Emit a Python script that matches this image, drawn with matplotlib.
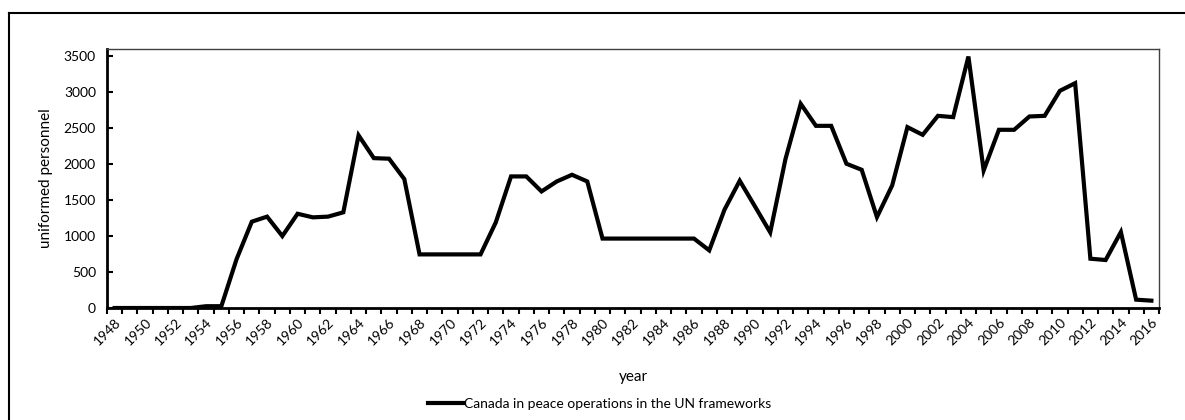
import matplotlib.pyplot as plt
import numpy as np
from matplotlib.lines import Line2D

plt.rcParams['font.family'] = ['Lato', 'DejaVu Sans']

# %% data
years = list(range(1948, 2017))
personnel = [0, 0, 0, 0, 0, 0, 25, 25, 680, 1200,
             1270, 1000, 1310, 1260, 1270, 1330, 2400, 2083, 2075, 1792,
             745, 745, 745, 745, 745, 1190, 1829, 1829, 1620, 1759,
             1852, 1759, 965, 965, 965, 965, 965, 965, 965, 801,
             1366, 1769, 1412, 1051, 2070, 2838, 2532, 2532, 2005, 1921,
             1264, 1704, 2514, 2407, 2671, 2653, 3495, 1912, 2477, 2477,
             2662, 2671, 3019, 3125, 685, 667, 1056, 116, 102]
series_name = 'Canada in peace operations in the UN frameworks'

# %% plot
fig = plt.figure(figsize=(11.85, 4.2), dpi=100)
ax = fig.add_axes([107/1185, 1-308/420, (1159-107)/1185, (308-49)/420])

x = np.arange(len(years))
ax.plot(x, personnel, color='k', lw=3, solid_joinstyle='miter')

ax.set_xlim(-0.5, len(years)-0.5)
ax.set_ylim(0, 3600)
ax.set_yticks(np.arange(0, 3501, 500))
ax.set_xticks(x[::2])
ax.set_xticklabels([str(y) for y in years[::2]], rotation=45, ha='right',
                   rotation_mode='anchor', fontsize=10)
ax.set_xticks(np.arange(-0.5, len(years)), minor=True)
ax.tick_params(axis='x', which='major', length=0, pad=6)
ax.tick_params(axis='x', which='minor', direction='out', length=4, width=1.5)
ax.tick_params(axis='y', direction='in', length=4, width=1.5, labelsize=10, pad=8)

for s in ['left', 'bottom']:
    ax.spines[s].set_linewidth(2)
    ax.spines[s].set_color('k')
for s in ['top', 'right']:
    ax.spines[s].set_linewidth(1)
    ax.spines[s].set_color('#404040')

ax.set_xlabel('year', fontsize=11, labelpad=16)
ax.set_ylabel('uniformed personnel', fontsize=11, labelpad=8)

# legend
handle = [Line2D([0], [0], color='k', lw=3)]
fig.legend(handle, [series_name], loc='center', bbox_to_anchor=(600/1185, 1-404/420),
           frameon=False, fontsize=10, handlelength=2.6, handletextpad=0)

# outer chart border
fig.add_artist(Line2D([9/1185, 1], [1-13/420, 1-13/420], color='k', lw=1.5,
                      transform=fig.transFigure))
fig.add_artist(Line2D([9/1185, 9/1185], [0, 1-13/420], color='k', lw=1.5,
                      transform=fig.transFigure))

fig.savefig('out.png', dpi=100)
